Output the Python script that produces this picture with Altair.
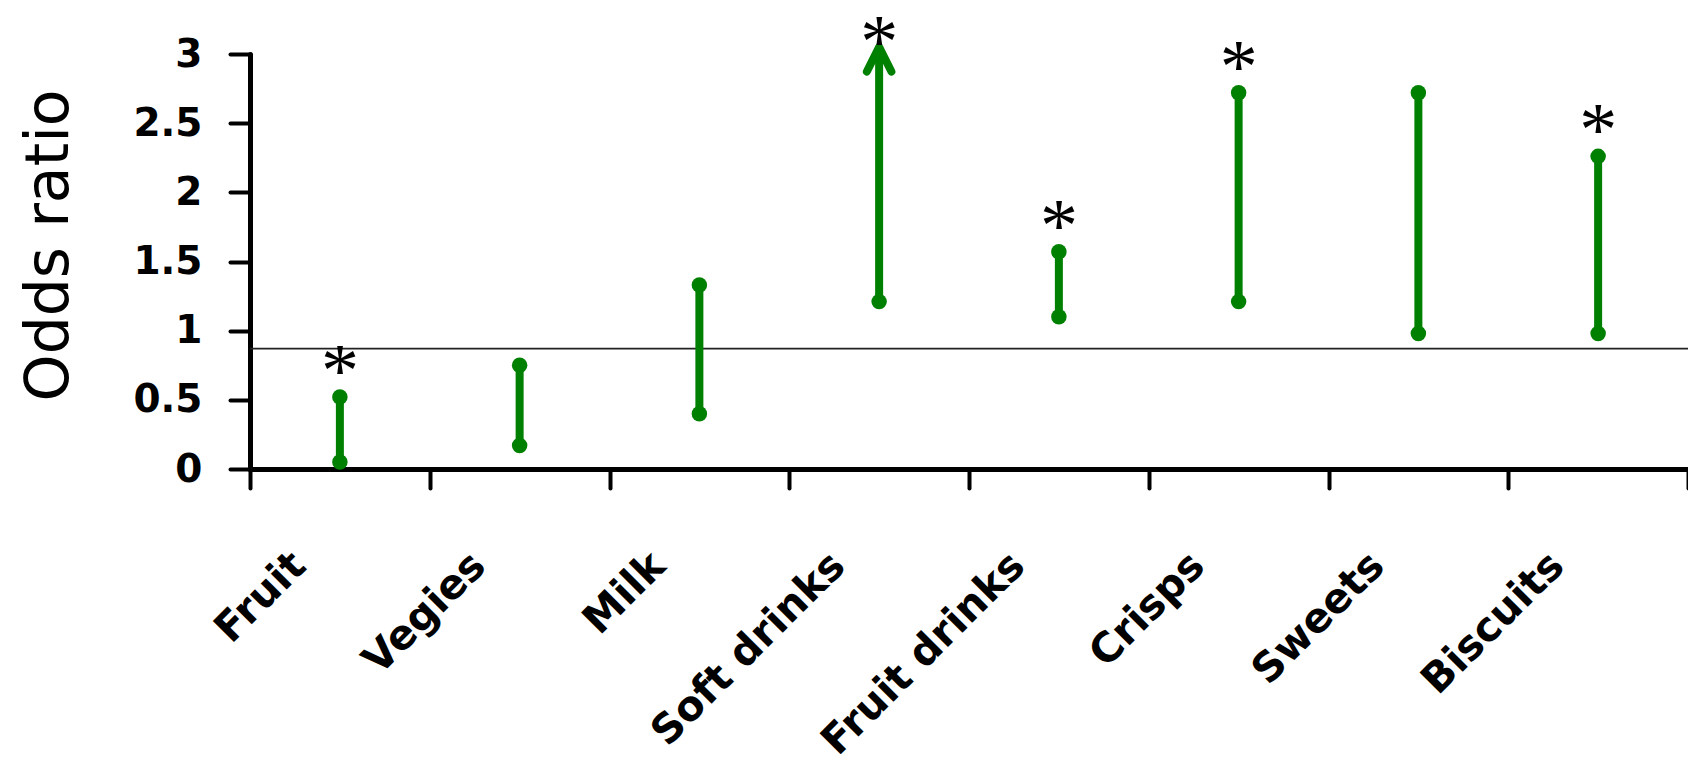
import altair as alt
import pandas as pd

categories = ["Fruit", "Vegies", "Milk", "Soft drinks", "Fruit drinks", "Crisps", "Sweets", "Biscuits"]
lower = [0.05, 0.17, 0.40, 1.21, 1.10, 1.21, 0.98, 0.98]
upper = [0.52, 0.75, 1.33, 3.05, 1.57, 2.72, 2.72, 2.26]
significant = [True, False, False, True, True, True, False, True]
open_upper = [False, False, False, True, False, False, False, False]
y_ticks = [0, 0.5, 1, 1.5, 2, 2.5, 3]
reference_value = [0.87]

df = pd.DataFrame({
    "category": categories,
    "lower": lower,
    "upper": upper,
    "significant": significant,
    "open_upper": open_upper,
})
ref_df = pd.DataFrame({"value": reference_value})

GREEN = "#008000"
FONT = "DejaVu Sans"

x_axis = alt.Axis(
    title=None, labelAngle=-45, tickBand="extent", labelOffset=-55, labelPadding=57,
    tickSize=19, tickWidth=4, tickCap="round", domainWidth=5, domainCap="round",
    labelFont=FONT, labelFontSize=41, labelFontWeight="bold", labelColor="black",
    domainColor="black", tickColor="black", labelAlign="right", labelBaseline="top",
    labelOverlap=False, labelBound=False, labelFlush=False, labelLimit=0, grid=False,
)
y_axis = alt.Axis(
    values=y_ticks, format="~g", title="Odds ratio", titleFont=FONT, titleFontSize=60,
    titleFontWeight="normal", titleColor="black", titlePadding=52, titleY=191,
    labelFont=FONT, labelFontSize=39, labelFontWeight="bold", labelColor="black",
    labelPadding=28, tickSize=20, tickWidth=4, tickCap="round", domainWidth=5,
    domainCap="round", domainColor="black", tickColor="black", grid=False,
    labelOverlap=False, labelBound=False, labelFlush=False,
)
x_enc = alt.X("category:N", sort=categories,
              scale=alt.Scale(type="band", paddingInner=0, paddingOuter=0), axis=x_axis)
y_scale = alt.Scale(domain=[0, 3], nice=False, zero=True)

base = alt.Chart(df)

ref_line = alt.Chart(ref_df).mark_rule(color="#222222", strokeWidth=1.6).encode(
    y=alt.Y("value:Q", scale=y_scale, axis=y_axis)
)

whiskers = base.mark_rule(color=GREEN, strokeWidth=8, strokeCap="butt").encode(
    x=x_enc,
    y=alt.Y("lower:Q", scale=y_scale, axis=y_axis),
    y2="upper:Q",
)

low_dots = base.mark_point(filled=True, color=GREEN, size=240, opacity=1).encode(
    x=x_enc, y=alt.Y("lower:Q", scale=y_scale, axis=y_axis)
)

up_dots = base.transform_filter("!datum.open_upper").mark_point(
    filled=True, color=GREEN, size=240, opacity=1
).encode(x=x_enc, y=alt.Y("upper:Q", scale=y_scale, axis=y_axis))

arrows = base.transform_filter("datum.open_upper").mark_point(
    shape="M-1,2L0,0L1,2", filled=False, color=GREEN, strokeWidth=8, size=600,
    strokeCap="round", strokeJoin="round", opacity=1,
).encode(x=x_enc, y=alt.Y("upper:Q", scale=y_scale, axis=y_axis))

stars = base.transform_filter("datum.significant && !datum.open_upper").mark_text(
    text="*", font="Liberation Serif", fontSize=76, baseline="alphabetic", dy=-1, color="black"
).encode(x=x_enc, y=alt.Y("upper:Q", scale=y_scale, axis=y_axis))

stars_open = base.transform_filter("datum.significant && datum.open_upper").mark_text(
    text="*", font="Liberation Serif", fontSize=76, baseline="alphabetic", dy=20, color="black"
).encode(x=x_enc, y=alt.Y("upper:Q", scale=y_scale, axis=y_axis))

chart = alt.layer(ref_line, whiskers, low_dots, up_dots, arrows, stars, stars_open).properties(
    width=1438, height=415,
    autosize=alt.AutoSizeParams(type="none"),
    padding={"left": 250, "top": 54, "right": 0, "bottom": 296},
    background="white",
).configure_view(stroke=None)

chart.save("out.html", embed_options={"renderer": "svg", "actions": False})
